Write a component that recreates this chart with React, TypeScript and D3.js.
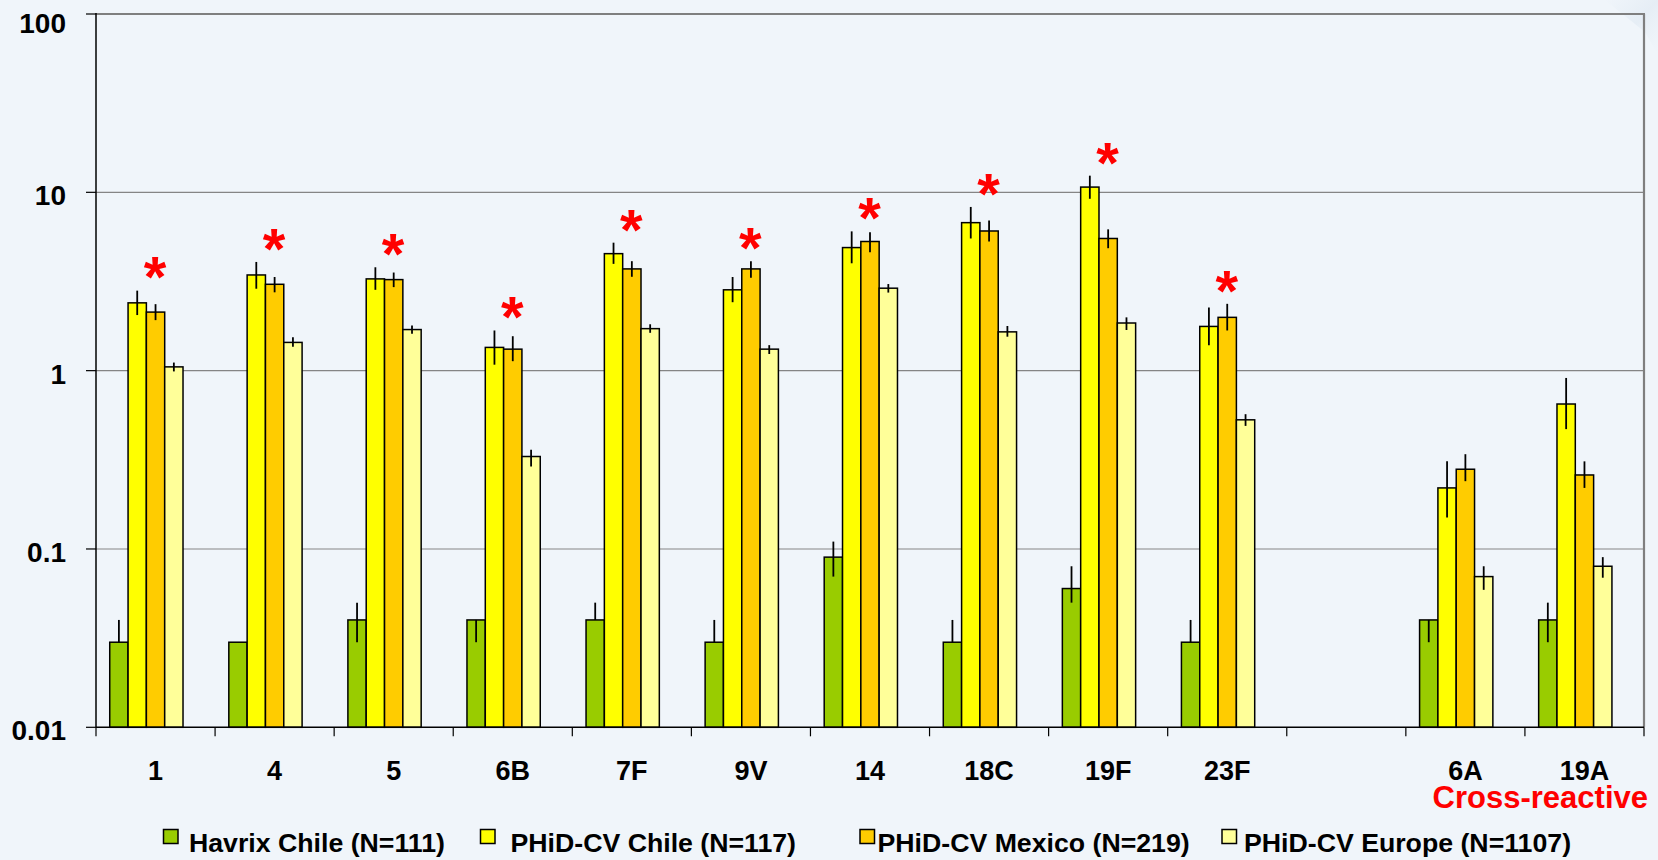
import React from "react";
import * as d3 from "d3";

// Serotypes on the x axis; the empty slot separates vaccine serotypes from cross-reactive ones
const categories = ["1", "4", "5", "6B", "7F", "9V", "14", "18C", "19F", "23F", "", "6A", "19A"];

// Geometric mean concentrations (µg/mL) with 95% confidence limits
const havrixChile = [0.03, 0.03, 0.04, 0.04, 0.04, 0.03, 0.09, 0.03, 0.06, 0.03, null, 0.04, 0.04];
const havrixChileCI = [[0.03, 0.04], [0.03, 0.03], [0.03, 0.05], [0.03, 0.04], [0.04, 0.05], [0.03, 0.04], [0.07, 0.11], [0.03, 0.04], [0.05, 0.08], [0.03, 0.04], null, [0.03, 0.04], [0.03, 0.05]];

const phidChile = [2.4, 3.44, 3.27, 1.35, 4.53, 2.84, 4.9, 6.76, 10.7, 1.77, null, 0.22, 0.65];
const phidChileCI = [[2.05, 2.81], [2.88, 4.07], [2.84, 3.8], [1.08, 1.68], [3.97, 5.22], [2.42, 3.35], [4.0, 6.04], [5.51, 8.28], [9.2, 12.4], [1.39, 2.26], null, [0.15, 0.31], [0.47, 0.91]];

const phidMexico = [2.13, 3.05, 3.24, 1.32, 3.72, 3.72, 5.3, 6.07, 5.51, 1.99, null, 0.28, 0.26];
const phidMexicoCI = [[1.92, 2.36], [2.75, 3.35], [2.94, 3.55], [1.13, 1.56], [3.36, 4.11], [3.32, 4.11], [4.62, 5.98], [5.3, 6.96], [4.86, 6.2], [1.68, 2.37], null, [0.24, 0.34], [0.22, 0.31]];

const phidEurope = [1.05, 1.44, 1.7, 0.33, 1.72, 1.32, 2.9, 1.65, 1.85, 0.53, null, 0.07, 0.08];
const phidEuropeCI = [[0.99, 1.11], [1.36, 1.54], [1.61, 1.79], [0.29, 0.36], [1.63, 1.82], [1.24, 1.39], [2.74, 3.06], [1.55, 1.78], [1.69, 1.99], [0.49, 0.57], null, [0.059, 0.08], [0.069, 0.09]];

// Serotypes where the Chile/Mexico response differs significantly
const significant = [true, true, true, true, true, true, true, true, true, true, false, false, false];

const seriesNames = ["Havrix Chile (N=111)", "PHiD-CV Chile (N=117)", "PHiD-CV Mexico (N=219)", "PHiD-CV Europe (N=1107)"];
const yTicks = [0.01, 0.1, 1, 10, 100];
const yTickLabels = ["0.01", "0.1", "1", "10", "100"];

const colors = ["#99CC00", "#FFFF00", "#FFCC00", "#FFFF99"];
const FONT = "'Liberation Sans', Arial, Helvetica, sans-serif";

const W = 1658;
const H = 860;
const plot = { left: 96, right: 1644, top: 14, bottom: 727.3 };

export default function App() {
  const series = [
    { values: havrixChile, ci: havrixChileCI },
    { values: phidChile, ci: phidChileCI },
    { values: phidMexico, ci: phidMexicoCI },
    { values: phidEurope, ci: phidEuropeCI },
  ];

  const x0 = d3
    .scaleBand<number>()
    .domain(d3.range(categories.length))
    .range([plot.left, plot.right])
    .paddingInner(0)
    .paddingOuter(0);

  const x1 = d3
    .scaleBand<number>()
    .domain(d3.range(series.length))
    .range([0, x0.bandwidth()])
    .paddingInner(0)
    .paddingOuter(1.25)
    .align(0.3);

  const y = d3.scaleLog().domain([0.01, 100]).range([plot.bottom, plot.top]);

  const boundaries = d3.range(categories.length + 1).map((i) => plot.left + i * x0.step());

  return (
    <svg
      width={W}
      height={H}
      style={{ position: "absolute", left: 0, top: 0, display: "block" }}
      fontFamily={FONT}
    >
      <defs>
        <linearGradient id="cornerGlow" x1="0" y1="0" x2="1" y2="1">
          <stop offset="0" stopColor="#dbe6f1" stopOpacity="0" />
          <stop offset="0.5" stopColor="#d9e4ef" stopOpacity="0.45" />
          <stop offset="1" stopColor="#e4ecf5" stopOpacity="0" />
        </linearGradient>
      </defs>
      <rect x={0} y={0} width={W} height={H} fill="#F0F5FA" />
      <polygon points={`1605,0 1658,0 1658,55 1645,32`} fill="url(#cornerGlow)" />

      {/* horizontal gridlines */}
      {yTicks.slice(1, -1).map((t) => (
        <line key={t} x1={plot.left} x2={plot.right} y1={y(t)} y2={y(t)} stroke="#858585" strokeWidth={1.2} />
      ))}
      {/* plot frame: top and right */}
      <line x1={plot.left} x2={plot.right + 1} y1={plot.top} y2={plot.top} stroke="#7f7f7f" strokeWidth={2.2} />
      <line x1={plot.right} x2={plot.right} y1={plot.top} y2={plot.bottom} stroke="#7f7f7f" strokeWidth={2.2} />

      {/* bars */}
      {series.map((s, si) =>
        s.values.map((v, ci) =>
          v == null ? null : (
            <rect
              key={`b${si}-${ci}`}
              x={(x0(ci) as number) + (x1(si) as number)}
              y={y(v)}
              width={x1.bandwidth()}
              height={plot.bottom - y(v)}
              fill={colors[si]}
              stroke="#000"
              strokeWidth={1.5}
            />
          )
        )
      )}

      {/* confidence intervals */}
      {series.map((s, si) =>
        s.ci.map((c, ci) => {
          if (!c) return null;
          const cx = (x0(ci) as number) + (x1(si) as number) + x1.bandwidth() / 2;
          return (
            <line
              key={`e${si}-${ci}`}
              x1={cx}
              x2={cx}
              y1={y(c[0])}
              y2={y(c[1])}
              stroke="#000"
              strokeWidth={1.8}
            />
          );
        })
      )}

      {/* y axis */}
      <line x1={plot.left} x2={plot.left} y1={plot.top - 1} y2={plot.bottom} stroke="#000" strokeWidth={1.5} />
      {yTicks.map((t, i) => (
        <g key={`yt${t}`}>
          <line x1={plot.left - 10} x2={plot.left} y1={y(t)} y2={y(t)} stroke="#000" strokeWidth={1.2} />
          <text
            x={66}
            y={Math.max(y(t) + 13, plot.top + 19)}
            textAnchor="end"
            fontSize={28}
            fontWeight="bold"
            fill="#000"
          >
            {yTickLabels[i]}
          </text>
        </g>
      ))}

      {/* x axis */}
      <line x1={plot.left} x2={plot.right} y1={plot.bottom} y2={plot.bottom} stroke="#000" strokeWidth={1.5} />
      {boundaries.map((bx, i) => (
        <line key={`xt${i}`} x1={bx} x2={bx} y1={plot.bottom} y2={plot.bottom + 9} stroke="#000" strokeWidth={1.2} />
      ))}
      {categories.map((c, i) => (
        <text
          key={`xl${i}`}
          x={(x0(i) as number) + x0.bandwidth() / 2}
          y={780}
          textAnchor="middle"
          fontSize={27}
          fontWeight="bold"
          fill="#000"
        >
          {c}
        </text>
      ))}

      {/* significance markers */}
      {significant.map((sig, i) => {
        if (!sig) return null;
        const top = Math.max(phidChileCI[i]![1], phidMexicoCI[i]![1]);
        const cy = y(top) - 21;
        const fs = 58;
        return (
          <text
            key={`s${i}`}
            x={(x0(i) as number) + 59}
            y={cy + fs * 0.48}
            textAnchor="middle"
            fontSize={fs}
            fontWeight="bold"
            fill="#FF0000"
          >
            *
          </text>
        );
      })}

      <text x={1648} y={808} textAnchor="end" fontSize={31} fontWeight="bold" fill="#FF0000">
        Cross-reactive
      </text>

      {/* legend */}
      {seriesNames.map((name, i) => {
        const sx = [163.5, 480.5, 860, 1222][i];
        const tx = [189, 510.5, 877.5, 1244][i];
        return (
          <g key={`lg${i}`}>
            <rect x={sx} y={829.5} width={14.5} height={14} fill={colors[i]} stroke="#000" strokeWidth={1.5} />
            <text x={tx} y={852} fontSize={26.7} fontWeight="bold" fill="#000">
              {name}
            </text>
          </g>
        );
      })}
    </svg>
  );
}
